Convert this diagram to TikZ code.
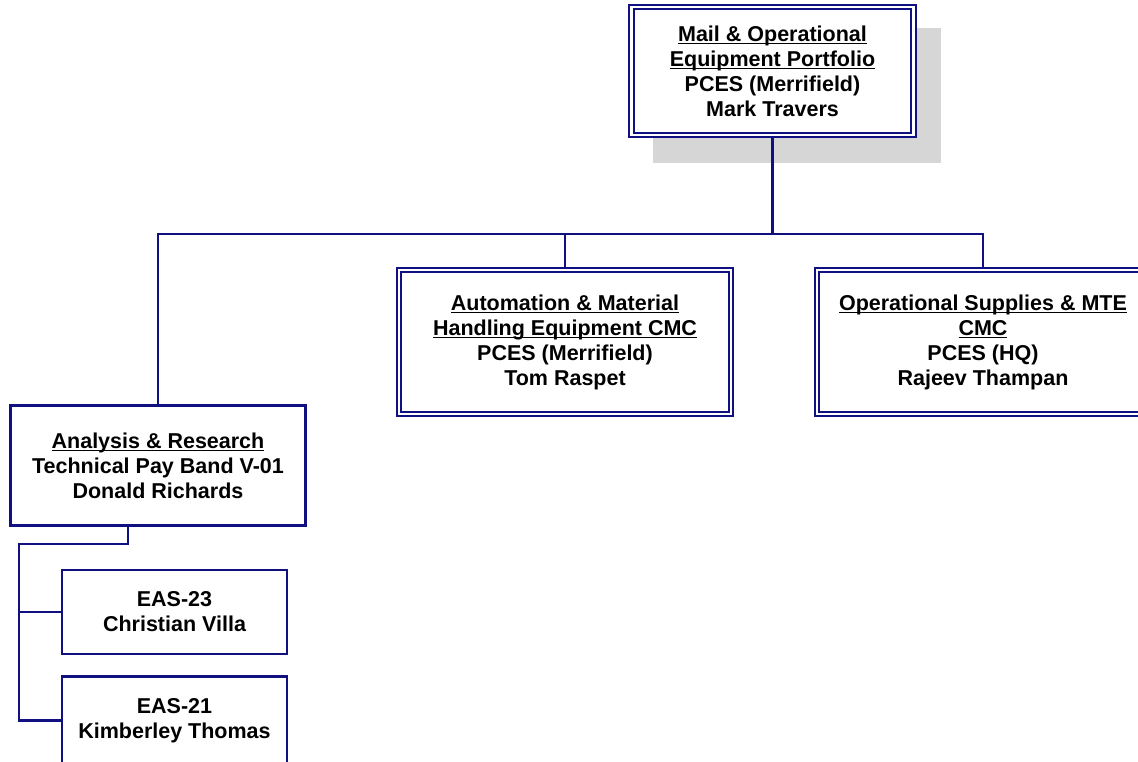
\documentclass[tikz,border=0pt]{standalone}
\usepackage{fontspec}
\setmainfont{Liberation Sans}
\definecolor{navyc}{RGB}{16,16,128}
\definecolor{shadowc}{RGB}{214,214,214}
\newcommand\undl[1]{\setbox0\hbox{#1}\rlap{\rule[-3.3pt]{\wd0}{1.5pt}}\box0}
\tikzset{
  boxtext/.style={align=center, inner sep=0pt, font=\fontsize{21.5}{25}\selectfont\bfseries, text=black},
  dbox/.style={boxtext, rectangle, draw=navyc, line width=2.2pt, double=white, double distance=2.5pt, fill=white},
  sbox/.style={boxtext, rectangle, draw=navyc, line width=2.2pt, fill=white},
  conn/.style={draw=navyc, line width=2.2pt}
}
\begin{document}
\begin{tikzpicture}[x=1pt,y=-1pt]
\useasboundingbox (0,0) rectangle (1138,761);
\clip (0,0) rectangle (1138,761);
\fill[white] (0,0) rectangle (1138,761);
% shadow of top box
\fill[shadowc] (653,28) rectangle (941,163);
% nodes
\node[dbox, minimum width=282pt, minimum height=128pt] (top) at (772.5,71)
  {\undl{Mail \& Operational}\\\undl{Equipment Portfolio}\\PCES (Merrifield)\\Mark Travers};
\node[dbox, minimum width=332pt, minimum height=144pt] (aut) at (565,342)
  {\undl{Automation \& Material}\\\undl{Handling Equipment CMC}\\PCES (Merrifield)\\Tom Raspet};
\node[dbox, minimum width=332pt, minimum height=144pt] (op) at (983,342)
  {\undl{Operational Supplies \& MTE}\\\undl{CMC}\\PCES (HQ)\\Rajeev Thampan};
\node[sbox, minimum width=295pt, minimum height=120pt] (ana) at (158,465.5)
  {\undl{Analysis \& Research}\\Technical Pay Band V-01\\Donald Richards};
\node[sbox, minimum width=225pt, minimum height=84pt] (e1) at (174.5,612)
  {EAS-23\\Christian Villa};
\node[sbox, minimum width=225pt, minimum height=88pt] (e2) at (174.5,720.5)
  {EAS-21\\Kimberley Thomas};
% connectors
\coordinate (bus) at (0,234);
\coordinate (sp) at (19,544);
\draw[conn] (top.south) -- (top.south |- bus);
\draw[conn] (ana.north) |- (op.north |- bus) -- (op.north);
\draw[conn] (aut.north |- bus) -- (aut.north);
\draw[conn] ([xshift=-30pt]ana.south) |- (sp) |- (e2.west);
\draw[conn] (sp |- e1.west) -- (e1.west);
\end{tikzpicture}
\end{document}
